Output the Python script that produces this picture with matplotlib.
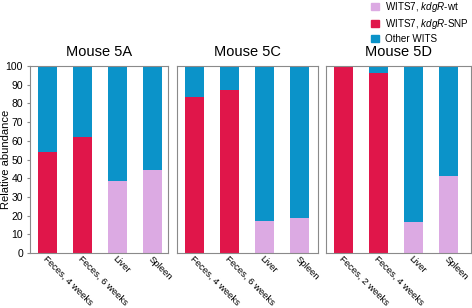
import matplotlib.pyplot as plt
import numpy as np
from matplotlib.patches import Patch
from matplotlib.transforms import ScaledTranslation

plt.rcParams["font.family"] = ["Liberation Sans", "DejaVu Sans"]
plt.rcParams["mathtext.fontset"] = "custom"
plt.rcParams["mathtext.rm"] = "Liberation Sans"
plt.rcParams["mathtext.it"] = "Liberation Sans:italic"

# Relative abundance (%) per sample
mice = ["Mouse 5A", "Mouse 5C", "Mouse 5D"]
samples = [
    ["Feces, 4 weeks", "Feces, 6 weeks", "Liver", "Spleen"],
    ["Feces, 4 weeks", "Feces, 6 weeks", "Liver", "Spleen"],
    ["Feces, 2 weeks", "Feces, 4 weeks", "Liver", "Spleen"],
]
kdgr_wt = [
    [0, 0, 38.3, 44.5],
    [0, 0, 17.0, 18.5],
    [0, 0, 16.6, 41.3],
]
kdgr_snp = [
    [54.0, 62.2, 0, 0],
    [83.3, 87.3, 0, 0],
    [100.0, 96.0, 0, 0],
]

c_wt = "#dcaae3"
c_snp = "#e0164a"
c_other = "#0b93c9"
spine_c = "#8a8a8a"

fig = plt.figure(figsize=(4.72, 3.08), dpi=100)
W, H = 472, 308
# panel edges in pixels
edges = [(30, 168), (177, 318), (326, 471)]
bottom, top = 253, 66
step = 35.0  # pixels per category
shift = ScaledTranslation(-5 / 100, 0, fig.dpi_scale_trans)

for i, mouse in enumerate(mice):
    l, r = edges[i]
    ax = fig.add_axes([l / W, 1 - bottom / H, (r - l) / W, (bottom - top) / H])
    x = np.arange(4)
    wt = np.array(kdgr_wt[i])
    snp = np.array(kdgr_snp[i])
    other = 100 - wt - snp
    bw = 0.57
    ax.bar(x, wt, width=bw, color=c_wt)
    ax.bar(x, snp, width=bw, bottom=wt, color=c_snp)
    ax.bar(x, other, width=bw, bottom=wt + snp, color=c_other)
    x0 = -17.5 / step
    ax.set_xlim(x0, x0 + (r - l) / step)
    ax.set_ylim(0, 100)
    ax.set_title(mouse, fontsize=10.5, pad=7)
    ax.set_xticks(x)
    ax.set_xticklabels(samples[i], rotation=-45, ha="left", va="top",
                       rotation_mode="anchor", fontsize=6.8)
    for lab in ax.get_xticklabels():
        lab.set_transform(lab.get_transform() + shift)
    ax.tick_params(axis="x", length=0, pad=1)
    for s in ax.spines.values():
        s.set_color(spine_c)
        s.set_linewidth(0.8)
    if i == 0:
        ax.set_yticks(np.arange(0, 101, 10))
        ax.tick_params(axis="y", labelsize=7.5, length=2, color=spine_c, pad=3)
        ax.set_ylabel("Relative abundance", fontsize=8)
        ax.yaxis.label.set_va("center")
        ax.yaxis.set_label_coords((6 - l) / (r - l), 0.5)
    else:
        ax.set_yticks([])

handles = [
    Patch(color=c_wt, label="WITS7, $\\it{kdgR}$-wt"),
    Patch(color=c_snp, label="WITS7, $\\it{kdgR}$-SNP"),
    Patch(color=c_other, label="Other WITS"),
]
fig.legend(handles=handles, loc="upper left", bbox_to_anchor=(371 / W, 1.0),
           frameon=False, fontsize=7.1, handlelength=0.8, handleheight=0.8,
           handletextpad=0.6, labelspacing=0.3, borderaxespad=0, borderpad=0.0)

fig.savefig("out.png", dpi=100)
